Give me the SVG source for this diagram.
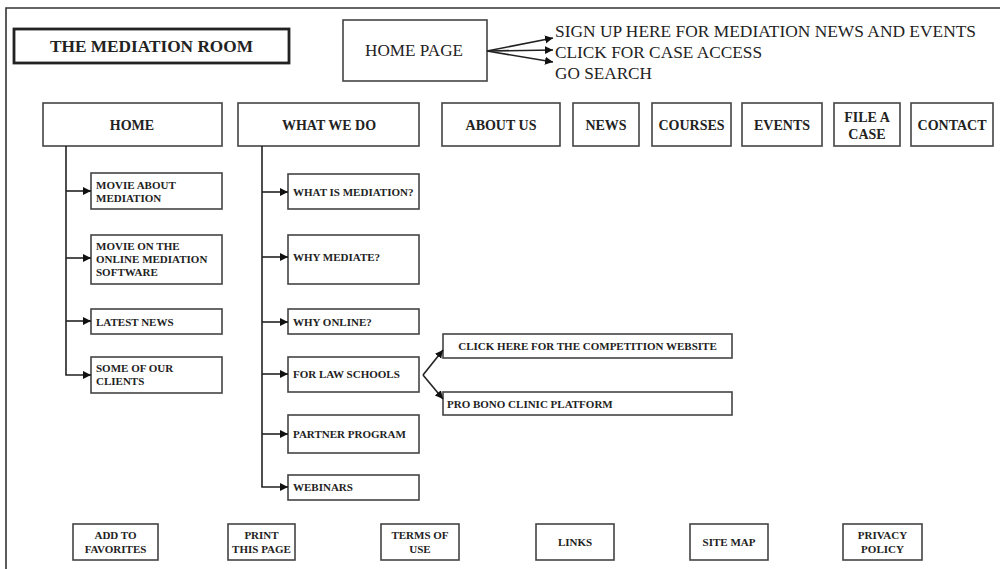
<svg xmlns="http://www.w3.org/2000/svg" width="1000" height="569" viewBox="0 0 1000 569">
<style>
.box{fill:#fff;stroke:#444;stroke-width:1.6}
.ln{fill:none;stroke:#222;stroke-width:1.6}
text{font-family:"Liberation Serif","Times New Roman",serif;fill:#222}
.big{font-size:17px}
.nav{font-size:14px;font-weight:bold;text-anchor:middle}
.sub{font-size:11px;font-weight:bold}
.bot{font-size:11px;font-weight:bold;text-anchor:middle}
</style>
<defs>
<marker id="ah" markerWidth="9" markerHeight="9" refX="8" refY="4.5" orient="auto" markerUnits="userSpaceOnUse">
<path d="M0,0.5 L8,4.5 L0,8.5 Z" fill="#111"/>
</marker>
</defs>
<rect width="1000" height="569" fill="#fff"/>
<path d="M6,569 V8 H1000" fill="none" stroke="#333" stroke-width="1.6"/>

<g id="title"><rect x="14" y="29" width="275" height="34" fill="#fff" stroke="#222" stroke-width="2.8"/><text x="50" y="52" class="big" font-weight="bold" textLength="203" lengthAdjust="spacingAndGlyphs">THE MEDIATION ROOM</text></g>
<g id="homepage"><rect class="box" x="343" y="20" width="144" height="61"/><text x="365" y="56" class="big" textLength="98" lengthAdjust="spacingAndGlyphs">HOME PAGE</text></g>
<g id="signup"><text x="555" y="37" class="big" textLength="421" lengthAdjust="spacingAndGlyphs">SIGN UP HERE FOR MEDIATION NEWS AND EVENTS</text></g>
<g id="caseaccess"><text x="555" y="58" class="big" textLength="207" lengthAdjust="spacingAndGlyphs">CLICK FOR CASE ACCESS</text></g>
<g id="gosearch"><text x="555" y="79" class="big" textLength="97" lengthAdjust="spacingAndGlyphs">GO SEARCH</text></g>

<g id="nav-home"><rect class="box" x="43" y="103" width="179" height="43"/><text x="132" y="130" class="nav">HOME</text></g>
<g id="nav-whatwedo"><rect class="box" x="238" y="103" width="181" height="43"/><text x="329" y="130" class="nav">WHAT WE DO</text></g>
<g id="nav-about"><rect class="box" x="442" y="103" width="118" height="43"/><text x="501" y="130" class="nav">ABOUT US</text></g>
<g id="nav-news"><rect class="box" x="573" y="103" width="66" height="43"/><text x="606" y="130" class="nav">NEWS</text></g>
<g id="nav-courses"><rect class="box" x="652" y="103" width="79" height="43"/><text x="691.5" y="130" class="nav">COURSES</text></g>
<g id="nav-events"><rect class="box" x="742" y="103" width="80" height="43"/><text x="782" y="130" class="nav">EVENTS</text></g>
<g id="nav-fileacase"><rect class="box" x="834" y="103" width="66" height="43"/><text x="867" y="122" class="nav">FILE A</text><text x="867" y="139" class="nav">CASE</text></g>
<g id="nav-contact"><rect class="box" x="911" y="103" width="82" height="43"/><text x="952" y="130" class="nav">CONTACT</text></g>

<g id="h-movie"><rect class="box" x="91" y="173" width="131" height="36"/><text x="96" y="189" class="sub">MOVIE ABOUT</text><text x="96" y="202" class="sub">MEDIATION</text></g>
<g id="h-movie2"><rect class="box" x="91" y="235" width="131" height="49"/><text x="96" y="250" class="sub">MOVIE ON THE</text><text x="96" y="263" class="sub">ONLINE MEDIATION</text><text x="96" y="276" class="sub">SOFTWARE</text></g>
<g id="h-latest"><rect class="box" x="91" y="309" width="131" height="25"/><text x="96" y="326" class="sub">LATEST NEWS</text></g>
<g id="h-clients"><rect class="box" x="91" y="357" width="131" height="36"/><text x="96" y="372" class="sub">SOME OF OUR</text><text x="96" y="385" class="sub">CLIENTS</text></g>

<g id="w-what"><rect class="box" x="288" y="174" width="131" height="35"/><text x="293" y="196" class="sub">WHAT IS MEDIATION?</text></g>
<g id="w-why"><rect class="box" x="288" y="235" width="131" height="49"/><text x="293" y="261" class="sub">WHY MEDIATE?</text></g>
<g id="w-online"><rect class="box" x="288" y="309" width="131" height="25"/><text x="293" y="326" class="sub">WHY ONLINE?</text></g>
<g id="w-law"><rect class="box" x="288" y="357" width="131" height="35"/><text x="293" y="378" class="sub">FOR LAW SCHOOLS</text></g>
<g id="w-partner"><rect class="box" x="288" y="415" width="131" height="38"/><text x="293" y="438" class="sub">PARTNER PROGRAM</text></g>
<g id="w-webinars"><rect class="box" x="288" y="475" width="131" height="25"/><text x="293" y="491" class="sub">WEBINARS</text></g>

<g id="competition"><rect class="box" x="443" y="334" width="289" height="24"/><text x="587.5" y="350" class="sub" text-anchor="middle">CLICK HERE FOR THE COMPETITION WEBSITE</text></g>
<g id="probono"><rect class="box" x="443" y="392" width="289" height="23"/><text x="447" y="408" class="sub">PRO BONO CLINIC PLATFORM</text></g>

<g id="b-fav"><rect class="box" x="73" y="524" width="85" height="36"/><text x="115.5" y="539" class="bot">ADD TO</text><text x="115.5" y="553" class="bot">FAVORITES</text></g>
<g id="b-print"><rect class="box" x="228" y="524" width="67" height="36"/><text x="261.5" y="539" class="bot">PRINT</text><text x="261.5" y="553" class="bot">THIS PAGE</text></g>
<g id="b-terms"><rect class="box" x="381" y="524" width="78" height="36"/><text x="420" y="539" class="bot">TERMS OF</text><text x="420" y="553" class="bot">USE</text></g>
<g id="b-links"><rect class="box" x="536" y="524" width="78" height="36"/><text x="575" y="546" class="bot">LINKS</text></g>
<g id="b-sitemap"><rect class="box" x="690" y="524" width="78" height="36"/><text x="729" y="546" class="bot">SITE MAP</text></g>
<g id="b-privacy"><rect class="box" x="843" y="524" width="79" height="36"/><text x="882.5" y="539" class="bot">PRIVACY</text><text x="882.5" y="553" class="bot">POLICY</text></g>

<g id="connectors">
<path class="ln" d="M487,51 L553,38" marker-end="url(#ah)"/>
<path class="ln" d="M487,51 L553,50" marker-end="url(#ah)"/>
<path class="ln" d="M487,51 L553,62" marker-end="url(#ah)"/>
<path class="ln" d="M66,146 V375 H91" marker-end="url(#ah)"/>
<path class="ln" d="M66,191 H91" marker-end="url(#ah)"/>
<path class="ln" d="M66,258 H91" marker-end="url(#ah)"/>
<path class="ln" d="M66,321 H91" marker-end="url(#ah)"/>
<path class="ln" d="M262,146 V487 H288" marker-end="url(#ah)"/>
<path class="ln" d="M262,192 H288" marker-end="url(#ah)"/>
<path class="ln" d="M262,257 H288" marker-end="url(#ah)"/>
<path class="ln" d="M262,322 H288" marker-end="url(#ah)"/>
<path class="ln" d="M262,374 H288" marker-end="url(#ah)"/>
<path class="ln" d="M262,434 H288" marker-end="url(#ah)"/>
<path class="ln" d="M423,375 L443,350" marker-end="url(#ah)"/>
<path class="ln" d="M423,375 L443,399" marker-end="url(#ah)"/>
</g>
</svg>
